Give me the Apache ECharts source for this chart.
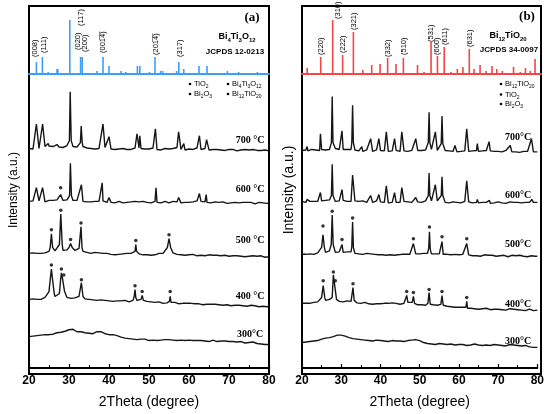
<!DOCTYPE html>
<html><head><meta charset="utf-8">
<script src="https://cdn.jsdelivr.net/npm/echarts@6/dist/echarts.min.js"></script>
<style>html,body{margin:0;padding:0;background:#fff}#c{width:547px;height:414px}</style>
</head><body><div id="c"></div><script>
// ---------------- DATA ----------------
const twoThetaStart = 20, twoThetaStep = 0.5;
const xTicks = [20, 30, 40, 50, 60, 70, 80];

// reference stick patterns [2theta, relative height]
const sticksA = [[21.85,12],[23.35,17],[24.8,2],[27.0,5],[27.2,5],[30.2,54],[32.9,17],[33.3,17],[37.0,3],[38.5,17],[40.0,8],[43.0,3],[44.2,2],[47.1,8],[47.7,8],[50.1,2],[51.5,17],[52.9,3],[53.4,3],[56.9,3],[57.45,12],[58.7,5],[62.5,8],[64.5,8],[69.6,3],[72.4,2],[77.1,2]];
const sticksB = [[21.3,6],[24.7,17],[27.7,54],[30.2,19],[32.9,42],[35.25,4],[37.5,9],[39.6,10],[41.5,16],[43.6,10],[45.45,16],[49.0,9],[50.65,2],[52.4,32],[54.0,18],[55.7,27],[57.4,2],[59.0,5],[60.4,7],[62.0,25],[63.2,5],[64.7,9],[66.2,3],[67.7,8],[68.9,5],[70.3,3],[73.1,7],[74.8,2],[76.1,6],[77.3,3],[78.5,15]];
const hklA = ["(008)","(111)","(117)","(020)","(200)","(001\u03054\u0305)","(201\u03054\u0305)","(317)"];
const hklB = ["(220)","(310)","(222)","(321)","(332)","(510)","(531)","(600)","(611)","(631)"];

const tempsA = ["700 °C","600 °C","500 °C","400 °C","300°C"];
const tempsB = ["700°C","600°C","500°C","400°C","300°C"];

// baselines (every 0.5 deg from 20 to 80)
const base700a = [2,3,1.5,3,2.5,2,3,3.5,4,3, 4.5,3.5,4,5,4,3.5,4.5,3,4,5, 6,6,4,3,3.5,4,5,4,3,2.5, 3,2,2.5,1.5,2.5,2,3,4,3,2, 2.5,1.5,2,1,2,1.5,1,2,1.5,1, 2,1,2,2.5,2,2.5,2,1,1.5,0.5, 1.5,2,2.5,2,1,1.5,0.5,1,2,1, 1.5,0.5,2,2.5,3,2,1,1.5,0.5,1, 1.5,0.5,1,2,2.5,2,1,1.5,2,1, 0.5,1.5,1,0,1,1.5,0.5,1,0,1.5, 1,0,1,0.5,-0.5,1,0.5,0,1,-0.5, 0.5,0,1,-0.5,0,1,0,-1,0.5,0, -0.5];
const base600a = [2,1,2.5,3,2,2.5,3,2,1.5,2.5, 3,2,3,2.5,3.5,3,2.5,3,4,3.5, 4,4.5,3,2.5,3,3.5,2.5,2,2.5,1.5, 2,1.5,2.5,2,3,2,1.5,2.5,2,1, 2,1,1.5,0.5,1.5,2,1,0.5,1.5,1, 0.5,1.5,1,2,2.5,1.5,1,2,0.5,1, 1.5,0.5,1,2,1,1.5,0.5,1,2,1, 0.5,1.5,2,2.5,1.5,1,0.5,1.5,1,0.5, 1,2,1.5,2,2.5,3,2,2.5,1.5,1, 1.5,0.5,1,1.5,0,1,0.5,1.5,1,0, 1,0.5,0,1,1.5,0.5,0,1,0.5,1, 0,1,0.5,-0.5,0.5,1,0,0.5,-0.5,0, 0.5];
const base500a = [3,2,3.5,2.5,3,4,3,2.5,3.5,4, 5,6,5,5.5,6,7,7,6,5.5,6.5, 8,8,7,6,7,8,6,5,4.5,4, 4,3,3.5,4,3,3.5,2.5,3,2,3, 2.5,2,3,1.5,2.5,2,1.5,2.5,2,3, 2,3,2.5,3,3,2.5,2,1.5,2.5,1.5, 2,1,2,1.5,2.5,3,2,3,3.5,4, 5,4,3.5,3,2,2.5,1.5,2,1,2, 1.5,1,2,1,0.5,1.5,1,2,0.5,1, 1.5,0.5,1,0,1,1.5,0.5,0,1,0.5, 0,1,0.5,-0.5,0.5,1,0,0.5,-0.5,0.5, 0,-0.5,0.5,1,0,-0.5,0.5,0,-1,0, -0.5];
const base400a = [6,5,6.5,5.5,6,7,6,7.5,8,9, 12,14,12,9,8,8.5,12,11,9,8, 8.5,7,8,7.5,8,9,8,7,6.5,7, 6,6.5,5.5,6,5,6,5.5,4.5,5,5.5, 4.5,5,4,5,4.5,3.5,4.5,4,5,4, 3.5,4.5,5,5.5,5,4.5,5,4,3.5,4, 3,3.5,4,3,2.5,3.5,3,2,3,2.5, 3,2.5,2,3,2,1.5,2.5,2,1,2, 1.5,2,1,1.5,0.5,1.5,1,0.5,1.5,1, 0,1,0.5,1,0,0.5,1,0,-0.5,0.5, 0,-0.5,0.5,0,-1,0,0.5,-0.5,0,-1, -0.5,0,-1,-0.5,0,-1.5,-0.5,-1,0,-1.5, -1];
const base300a = [8,7,8.5,8,9,8.5,9.5,9,10,9.5, 10,11,10.5,11.5,12,11,12.5,13,13.5,14, 15,14,15.5,14,13,12.5,13,11.5,12,11, 11.5,12,11,12.5,13,12,13,12.5,11,10.5, 10,9.5,10,8.5,9,8,7.5,8,6.5,7, 6,6.5,5.5,6,5,6,5.5,4.5,5.5,5, 4,5,4.5,5.5,4,5,4.5,3.5,5,4.5, 5,4,4.5,5.5,4,3.5,4.5,5,4,3.5, 4.5,3.5,4,5,4,3,4,4.5,3.5,4, 3,4,4.5,3.5,3,4,3.5,2.5,3.5,3, 3,2,3,3.5,2.5,2,3,2.5,1.5,2.5, 2,1.5,2.5,1.5,1,2,0.5,1.5,0,1, 0];

const base700b = [2,1,2.5,1.5,2,3,2,2.5,3,2, 3,2,2.5,3.5,3,2,3,4,3.5,3, 3.5,3,2.5,3,4,3,2,2.5,2,1.5, 2,1,2,2.5,1.5,2,1,2,2.5,1.5, 2,1,1.5,2,1,2.5,1.5,1,2,1.5, 1,2,1.5,2,1,1.5,2,0.5,1.5,2, 1.5,2,3,2.5,3,2,3,2.5,3,2, 2.5,2,1.5,2,1,1.5,2,1,1.5,0.5, 1.5,1,2,1.5,2,1,0.5,1.5,1,2, 1,0.5,1.5,1,2,1,1.5,0.5,1,0, 1,1.5,0.5,1,2,1,1.5,0.5,1,0.5, 1,0,1.5,1,0.5,1,0,1.5,0.5,1, 0.5];
const base600b = [2,1.5,1,2.5,2,1,2,3,2,1.5, 2.5,2,3,2,3.5,2.5,3,2,3,2.5, 2,3,2.5,2,3,2,1.5,2.5,1,2, 1.5,2.5,2,1,1.5,2,1,1.5,2.5,1, 1.5,2,1,1.5,0.5,2,1,1.5,1,2, 1,1.5,2,1,1.5,0.5,1,2,1,1.5, 2,1,2,2.5,3,2,2.5,3,2,2.5, 2,1.5,2,1,1.5,0.5,1,1.5,0.5,1, 1.5,0.5,1,2,1,1.5,1,0.5,1.5,1, 0.5,1.5,1,0.5,1,1.5,0,1,0.5,1, 1.5,1,0.5,1,0,1,1.5,0.5,1,0.5, 1,0,0.5,1.5,1,0.5,1,0,1,1.5, 1];
const base500b = [2,3,2,1.5,2.5,3,2,3,3.5,4, 5,5,4,4.5,5.5,4,5,4,5,4.5, 5,4,5,4.5,4,4.5,3.5,3,3.5,2.5, 3,2,2.5,3,2,2.5,1.5,2,2.5,1.5, 2,1.5,2.5,1,2,1.5,2,1,2,1.5, 1,2,1.5,2,2.5,2,3,2,2.5,3, 2.5,2,3,2.5,3,3.5,2.5,3,2.5,2, 2.5,3,2,1.5,2,1,1.5,1,2,1, 1.5,1,2,1,0.5,1.5,1,0.5,1.5,0.5, 1,0,1,1.5,0.5,1,0,1,0.5,0, 1,0.5,0,1,0.5,-0.5,0.5,1,0,0.5, 0,1,0.5,0,0.5,-0.5,0,0.5,-0.5,0, 0];
const base400b = [6,5,6,7,6,6.5,7,8,7.5,9, 11,10,9,9.5,10,9,8,9,8.5,8, 8.5,7.5,8,8.5,9,8,7,7.5,6.5,7, 6,6.5,7,6,5.5,6,5,6,5.5,5, 5.5,5,6,5,6,5.5,6.5,7,6,6.5, 5,5.5,6,5.5,6,5,6,5.5,5,4.5, 5,4.5,5,4,4.5,5,4,4.5,3.5,4, 4,5,4,3.5,3,3.5,2.5,3,2,2.5, 2,1.5,2,1,1.5,0.5,1,1.5,0.5,1, 0,1,0.5,0,1,0.5,-0.5,0.5,0,-0.5, 0,0.5,-0.5,0,-1,0,0.5,-0.5,0,-1, -0.5,0,-1,-0.5,-1.5,-0.5,0,-1,-1.5,-0.5, -1];
const base300b = [6,7,6.5,7.5,7,8,7.5,8.5,8,9, 9.5,9,10.5,10,11,11.5,12,13,13.5,14, 13.5,14,12.5,12,11,11.5,10,10.5,9.5,10, 9,9.5,8.5,9,8,8.5,7.5,8,8.5,7.5, 8,7,7.5,8,7,7.5,8,7,7.5,8, 7.5,8,7,8.5,8,9,8.5,9.5,9,10, 8,6.5,6,5.5,5,5.5,4.5,5,4,4.5, 5,4,4.5,5,4,3.5,4.5,4,3.5,4.5, 4,3.5,4,4.5,3,4,3.5,4,4.5,3, 3.5,4,3,4,3.5,4.5,3,3.5,4,3, 3.5,2.5,3,3.5,2.5,3,4,3,3.5,4, 3,3.5,2.5,2,3,2,1.5,2,1,1.5, 1];

// diffraction peaks [2theta, intensity above baseline level]
const peaks700a = [[21.85,27],[23.4,27],[24.8,7],[27.0,6],[30.1,10],[30.3,60],[30.55,10],[32.85,8],[33.05,25],[33.3,8],[38.5,27],[40.0,14],[47.0,17],[47.7,15],[51.6,22],[57.4,19],[58.7,7],[62.6,15],[64.4,11]];
const peaks600a = [[21.85,16],[23.4,16],[27.9,9],[30.15,8],[30.35,41],[30.6,8],[33.1,19],[38.3,21],[40.0,6],[46.8,4],[51.75,16],[57.4,6],[62.6,10],[64.3,9]];
const peaks500a = [[25.3,9],[25.6,23],[25.9,9],[27.6,12],[27.95,43],[28.3,12],[30.0,9],[30.4,13],[30.8,9],[32.8,10],[33.0,30],[33.25,9],[46.5,5],[46.7,12],[46.9,5],[54.6,9],[55.0,18],[55.4,9]];
const peaks400a = [[25.0,14],[25.35,28],[25.6,37],[25.9,26],[26.3,12],[27.6,12],[27.9,26],[28.1,33],[28.35,28],[28.6,27],[28.9,14],[32.7,10],[33.1,23],[33.5,9],[46.3,9],[46.5,16],[46.7,8],[48.0,6],[48.3,10],[48.6,5],[55.1,4],[55.3,9],[55.5,3]];
const peaks300a = [];
const peaks700b = [[21.3,6],[24.7,19],[27.5,10],[27.7,57],[27.9,10],[30.2,22],[32.7,10],[32.9,48],[33.1,10],[35.25,6],[37.5,14],[39.6,14],[41.5,21],[43.6,14],[45.45,21],[49.0,14],[52.2,10],[52.4,41],[52.6,10],[54.0,21],[55.5,9],[55.7,37],[55.9,9],[59.0,7],[62.0,24],[64.7,9],[67.7,11],[73.1,7],[78.5,14]];
const peaks600b = [[21.3,4],[24.7,11],[27.5,8],[27.7,40],[27.9,8],[30.2,14],[32.9,29],[37.5,8],[39.6,9],[41.5,18],[43.6,11],[45.45,16],[49.0,6],[52.2,8],[52.4,31],[52.6,8],[54.0,19],[55.5,8],[55.7,27],[55.9,8],[62.0,23],[64.7,4],[67.8,3],[78.6,4]];
const peaks500b = [[25.0,9],[25.35,22],[25.7,9],[27.45,12],[27.7,42],[27.95,12],[30.2,12],[32.7,10],[32.9,35],[33.1,9],[48.4,13],[52.3,8],[52.5,25],[52.7,7],[55.7,15],[62.0,13]];
const peaks400b = [[25.0,12],[25.4,24],[25.8,12],[27.7,12],[28.0,35],[28.25,27],[28.5,25],[28.8,10],[32.7,10],[33.0,22],[33.3,9],[46.4,7],[46.7,14],[47.0,7],[48.1,7],[48.4,13],[48.7,6],[52.1,6],[52.4,17],[52.7,5],[55.4,5],[55.7,14],[56.0,4],[61.8,2],[62.0,8],[62.2,1]];
const peaks300b = [];

// phase markers above peaks
const dots600a = [[27.9,16]];
const dots500a = [[25.6,27],[27.95,47],[30.4,17],[33.0,34],[46.7,16],[55.0,22]];
const dots400a = [[25.6,41],[28.1,37],[28.7,31],[33.1,26],[46.5,20],[48.3,14],[55.3,14]];
const dots500b = [[25.35,31],[27.7,46],[30.2,17],[32.9,39],[48.4,18],[52.5,30],[55.7,20],[62.0,18]];
const dots400b = [[25.4,29],[28.0,38],[28.5,29],[33.0,26],[46.7,18],[48.4,17],[52.4,20],[55.7,18],[62.0,12]];

// vertical stacking offsets (700,600,500,400,300)
const offsetsA = [222,168,114,64,24];
const offsetsB = [220,168,114,60,20];

// ---------------- BUILD ----------------
function buildCurve(base, peaks, off){
  const pts = [];
  base.forEach((r,i)=>{
    const x = twoThetaStart + i*twoThetaStep;
    if(!peaks.some(p=>Math.abs(p[0]-x) < 0.18)) pts.push([x, r]);
  });
  peaks.forEach(p=>pts.push([p[0], p[1]]));
  pts.sort((a,b)=>a[0]-b[0]);
  return pts.map(p=>[p[0], p[1]+off]);
}
const shift = (arr, off) => arr.map(p=>[p[0], p[1]+off]);

const curvesA = [[base700a,peaks700a],[base600a,peaks600a],[base500a,peaks500a],[base400a,peaks400a],[base300a,peaks300a]];
const curvesB = [[base700b,peaks700b],[base600b,peaks600b],[base500b,peaks500b],[base400b,peaks400b],[base300b,peaks300b]];

const SANS = '"Liberation Sans", Arial, sans-serif';
const SERIF = '"Liberation Serif", "Times New Roman", serif';
const BLUE = '#3d9ef2', RED = '#f24646';

const panels = [
  {left:29, width:240, color:BLUE, sticks:sticksA, curves:curvesA, offs:offsetsA,
   dots:[[dots600a,1],[dots500a,2],[dots400a,3]]},
  {left:302, width:239, color:RED, sticks:sticksB, curves:curvesB, offs:offsetsB,
   dots:[[dots500b,2],[dots400b,3]]}
];

const grid=[], xAxis=[], yAxis=[], series=[];
panels.forEach((P,pi)=>{
  const g0 = grid.length;
  grid.push({left:P.left, top:6, width:P.width, height:368, show:true, borderColor:'#000', borderWidth:2, backgroundColor:'transparent'});
  grid.push({left:P.left, top:6, width:P.width, height:68});
  grid.push({left:P.left, top:74, width:P.width, height:300});
  // frame axes
  xAxis.push({gridIndex:g0, type:'value', min:0, max:1, show:false});
  yAxis.push({gridIndex:g0, type:'value', min:0, max:1, show:true, axisLine:{show:false}, axisTick:{show:false}, axisLabel:{show:false}, splitLine:{show:false},
    name:'Intensity (a.u.)', nameLocation:'middle', nameGap: pi===0?9:6, nameTextStyle:{fontFamily:SANS, fontSize: pi===0?12:14, color:'#000'}});
  // reference pattern axes
  xAxis.push({gridIndex:g0+1, type:'value', min:20, max:80, interval:10, axisLine:{show:true, onZero:false, lineStyle:{color:P.color, width:2}}, axisTick:{show:false}, axisLabel:{show:false}, splitLine:{show:false}});
  yAxis.push({gridIndex:g0+1, type:'value', min:0, max:68, show:false});
  // pattern axes
  xAxis.push({gridIndex:g0+2, type:'value', min:20, max:80, interval:10,
    axisLine:{show:true, onZero:false, lineStyle:{color:'#000', width:2}},
    axisTick:{show:true, inside:true, length:4, lineStyle:{color:'#000', width:1.2}},
    minorTick:{show:true, splitNumber:2, length:3, lineStyle:{color:'#000', width:1}},
    axisLabel:{fontFamily:SANS, fontWeight:'bold', fontSize:12, color:'#000', margin:7, formatter:v=>xTicks.includes(v)?String(v):''},
    splitLine:{show:false},
    name:'2Theta (degree)', nameLocation:'middle', nameGap:27, nameTextStyle:{fontFamily:SANS, fontSize:14, color:'#000'}});
  yAxis.push({gridIndex:g0+2, type:'value', min:0, max:300, show:false});
  const xi = xAxis.length-1, yi = yAxis.length-1;
  series.push({type:'bar', xAxisIndex:xi-1, yAxisIndex:yi-1, data:P.sticks, barWidth:1.6, itemStyle:{color:P.color}, silent:true, animation:false});
  P.curves.forEach((c,ci)=>{
    series.push({type:'line', xAxisIndex:xi, yAxisIndex:yi, data:buildCurve(c[0], c[1], P.offs[ci]), showSymbol:false, symbol:'none',
      lineStyle:{color:'#161616', width:1.4}, silent:true, animation:false});
  });
  P.dots.forEach(d=>{
    series.push({type:'scatter', xAxisIndex:xi, yAxisIndex:yi, data:shift(d[0], P.offs[d[1]]), symbolSize:3.5, itemStyle:{color:'#000'}, silent:true, animation:false});
  });
});

// ---------------- TEXT ----------------
const graphic = [];
function txt(x,y,text,font,extra){
  graphic.push({type:'text', x, y, silent:true, style:Object.assign({text, font, fill:'#000', align:'center', verticalAlign:'middle', textAlign:'center', textVerticalAlign:'middle'}, extra||{})});
}
function rich(x,y,text,size,align){
  graphic.push({type:'text', x, y, silent:true, style:{text, fill:'#000', align:align||'center', verticalAlign:'middle', textAlign:align||'center', textVerticalAlign:'middle',
    rich:{m:{fontFamily:SANS, fontWeight:'bold', fontSize:size, lineHeight:size+3, verticalAlign:'middle'},
          r:{fontFamily:SANS, fontSize:size, lineHeight:size+3, verticalAlign:'middle'},
          s:{fontFamily:SANS, fontWeight:'bold', fontSize:Math.round(size*0.62), lineHeight:size+3, verticalAlign:'bottom'},
          t:{fontFamily:SANS, fontSize:Math.round(size*0.62), lineHeight:size+3, verticalAlign:'bottom'}}}});
}
// temperature labels
const tyA = [140,189,240,296,334], tyB = [137,195,244,304,341];
tempsA.forEach((t,i)=>txt(250, tyA[i], t, 'bold 10px '+SERIF));
tempsB.forEach((t,i)=>txt(518, tyB[i], t, 'bold 10px '+SERIF));
// panel tags
txt(252, 18, '(a)', 'bold 13px '+SERIF);
txt(527, 17, '(b)', 'bold 13px '+SERIF);
rich(237, 37, '{m|Bi}{s|4}{m|Ti}{s|3}{m|O}{s|12}', 9);
txt(235, 52, 'JCPDS 12-0213', 'bold 8px '+SANS);
rich(508, 36, '{m|Bi}{s|12}{m|TiO}{s|20}', 9);
txt(509, 50, 'JCPDS 34-0097', 'bold 8px '+SANS);
// hkl labels (rotated)
const hklPosA = [[35,57],[43.5,53],[81,26],[77.5,50],[84.5,52],[103,53],[155.5,55],[179.5,57]];
const hklPosB = [[320.5,55],[337.5,19],[342.5,53],[353.5,30],[387.5,57],[403.5,55],[430.5,42],[436.5,55],[444.5,45],[469.5,47]];
hklA.forEach((t,i)=>graphic.push({type:'text', x:hklPosA[i][0], y:hklPosA[i][1], rotation:Math.PI/2, silent:true,
  style:{text:t, font:'7.5px '+SANS, fill:'#000', align:'left', verticalAlign:'middle', textAlign:'left', textVerticalAlign:'middle'}}));
hklB.forEach((t,i)=>graphic.push({type:'text', x:hklPosB[i][0], y:hklPosB[i][1], rotation:Math.PI/2, silent:true,
  style:{text:t, font:'7.5px '+SANS, fill:'#000', align:'left', verticalAlign:'middle', textAlign:'left', textVerticalAlign:'middle'}}));
// legends
const legA = [[190,84,'{r|TiO}{t|2}'],[228,84,'{r|Bi}{t|4}{r|Ti}{t|3}{r|O}{t|12}'],[190,94,'{r|Bi}{t|2}{r|O}{t|3}'],[228,94,'{r|Bi}{t|12}{r|TiO}{t|20}']];
const legB = [[501,84,'{r|Bi}{t|12}{r|TiO}{t|20}'],[501,94.5,'{r|TiO}{t|2}'],[501,104,'{r|Bi}{t|2}{r|O}{t|3}']];
legA.concat(legB).forEach(l=>{
  graphic.push({type:'circle', shape:{cx:l[0], cy:l[1], r:1.3}, style:{fill:'#000'}, silent:true});
  rich(l[0]+4, l[1], l[2], 7.5, 'left');
});

const chart = echarts.init(document.getElementById('c'), null, {renderer:'canvas'});
chart.setOption({animation:false, backgroundColor:'#fff', grid, xAxis, yAxis, series, graphic});
</script></body></html>
